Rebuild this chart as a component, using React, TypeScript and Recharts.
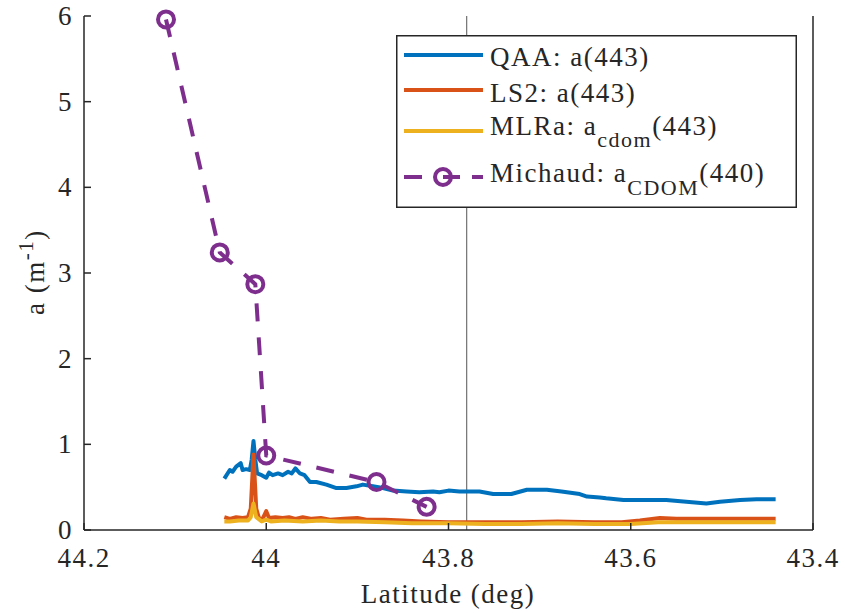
import React from 'react';
import { LineChart, Line, XAxis, YAxis, ReferenceLine, Legend } from 'recharts';

// MATLAB-style absorption vs latitude plot, reversed x axis

const AX = '#262626';
const FONT = '"Liberation Serif", "Times New Roman", serif';
const FS = 27;

const BLUE = '#0072BD';
const ORANGE = '#D95319';
const YELLOW = '#EDB120';
const PURPLE = '#7E2F8E';

const latTicks = [44.2, 44, 43.8, 43.6, 43.4];
const aTicks = [0, 1, 2, 3, 4, 5, 6];

const qaaLat = [
  44.046, 44.04, 44.037, 44.033, 44.028, 44.026, 44.022, 44.018, 44.016, 44.014,
  44.012, 44.01, 44.005, 44.0, 43.997, 43.993, 43.987, 43.982, 43.976, 43.972,
  43.968, 43.963, 43.958, 43.952, 43.945, 43.934, 43.923, 43.912, 43.901, 43.894,
  43.883, 43.872, 43.861, 43.846, 43.832, 43.817, 43.81, 43.8, 43.788, 43.766,
  43.751, 43.731, 43.714, 43.692, 43.676, 43.656, 43.648, 43.634, 43.627, 43.608,
  43.583, 43.561, 43.539, 43.517, 43.502, 43.48, 43.462, 43.441,
];
const qaaVal = [
  0.6, 0.7, 0.68, 0.74, 0.78, 0.7, 0.71, 0.7, 0.82, 1.04,
  0.82, 0.66, 0.64, 0.61, 0.67, 0.64, 0.66, 0.64, 0.68, 0.66,
  0.72, 0.66, 0.64, 0.56, 0.56, 0.53, 0.49, 0.49, 0.51, 0.53,
  0.51, 0.49, 0.46, 0.45, 0.44, 0.45, 0.44, 0.46, 0.45, 0.45,
  0.42, 0.42, 0.47, 0.47, 0.45, 0.42, 0.39, 0.38, 0.37, 0.35,
  0.35, 0.35, 0.33, 0.31, 0.33, 0.35, 0.36, 0.36,
];

const ls2Lat = [
  44.046, 44.04, 44.033, 44.026, 44.02, 44.017, 44.014, 44.011, 44.008, 44.004,
  44.0, 43.997, 43.99, 43.982, 43.975, 43.968, 43.96, 43.95, 43.94, 43.93,
  43.915, 43.9, 43.89, 43.87, 43.85, 43.83, 43.8, 43.76, 43.72, 43.68,
  43.64, 43.61, 43.59, 43.568, 43.55, 43.52, 43.48, 43.441,
];
const ls2Val = [
  0.15, 0.13, 0.15, 0.14, 0.15, 0.25, 0.88, 0.25, 0.14, 0.13,
  0.22, 0.14, 0.15, 0.14, 0.15, 0.13, 0.15, 0.13, 0.14, 0.12,
  0.13, 0.14, 0.12, 0.12, 0.11, 0.1, 0.09, 0.09, 0.09, 0.1,
  0.09, 0.09, 0.11, 0.14, 0.13, 0.13, 0.13, 0.13,
];

const mlrLat = [
  44.046, 44.04, 44.03, 44.02, 44.017, 44.014, 44.011, 44.005, 44.0, 43.995,
  43.98, 43.96, 43.94, 43.92, 43.9, 43.87, 43.84, 43.8, 43.76, 43.72,
  43.68, 43.64, 43.6, 43.57, 43.54, 43.5, 43.441,
];
const mlrVal = [
  0.1, 0.1, 0.11, 0.11, 0.15, 0.31, 0.15, 0.1, 0.12, 0.1,
  0.11, 0.1, 0.11, 0.1, 0.1, 0.09, 0.08, 0.08, 0.07, 0.07,
  0.08, 0.07, 0.07, 0.09, 0.09, 0.09, 0.09,
];

const michaudLat = [44.11, 44.051, 44.012, 44.0, 43.879, 43.824];
const michaudVal = [5.96, 3.24, 2.87, 0.87, 0.56, 0.27];

const dividerLat = 43.78;

const zip = (lat: number[], val: number[]) => lat.map((l, i) => ({ lat: l, a: val[i] }));

const qaa = zip(qaaLat, qaaVal);
const ls2 = zip(ls2Lat, ls2Val);
const mlr = zip(mlrLat, mlrVal);
const michaud = zip(michaudLat, michaudVal);

const textProps = { fontFamily: FONT, fontSize: FS, fill: AX, letterSpacing: 1.5 };

function BottomTick({ x, y, payload }: any) {
  return (
    <g>
      <line x1={x} x2={x} y1={y} y2={y - 7} stroke={AX} strokeWidth={1.5} />
      <text x={x} y={y + 37} textAnchor="middle" {...textProps}>{payload.value}</text>
    </g>
  );
}

function TopTick({ x, y }: any) {
  return <line x1={x} x2={x} y1={y} y2={y + 7} stroke={AX} strokeWidth={1.5} />;
}

function LeftTick({ x, y, payload }: any) {
  return (
    <g>
      <line x1={x} x2={x + 7} y1={y} y2={y} stroke={AX} strokeWidth={1.5} />
      <text x={x - 11} y={y + 9} textAnchor="end" {...textProps}>{payload.value}</text>
    </g>
  );
}

function RightTick({ x, y }: any) {
  return <line x1={x} x2={x - 7} y1={y} y2={y} stroke={AX} strokeWidth={1.5} />;
}

function MichaudDot(p: any) {
  if (p.cx == null || p.cy == null) return null;
  return (
    <circle key={`m-${p.index}`} cx={p.cx} cy={p.cy} r={8} fill="none" stroke={PURPLE} strokeWidth={4} />
  );
}

function LegendBox() {
  const rows = [
    { color: BLUE, lineY: 20 },
    { color: ORANGE, lineY: 55 },
    { color: YELLOW, lineY: 96 },
  ];
  const tx = 94;
  return (
    <svg width={401} height={173} style={{ display: 'block' }}>
      <rect x={0.75} y={0.75} width={399.5} height={171.5} fill="#fff" stroke={AX} strokeWidth={1.5} />
      {rows.map((r, i) => (
        <line key={i} x1={8} x2={87} y1={r.lineY} y2={r.lineY} stroke={r.color} strokeWidth={4} />
      ))}
      <line x1={8} x2={87} y1={142} y2={142} stroke={PURPLE} strokeWidth={4} strokeDasharray="18 16" />
      <circle cx={47} cy={142} r={8} fill="#fff" stroke={PURPLE} strokeWidth={4} />
      <line x1={47} x2={64} y1={142} y2={142} stroke={PURPLE} strokeWidth={4} />
      <text x={tx} y={31} {...textProps}>QAA: a(443)</text>
      <text x={tx} y={67} {...textProps}>LS2: a(443)</text>
      <text x={tx} y={100} {...textProps}>
        MLRa: a<tspan dy={12} fontSize={22}>cdom</tspan><tspan dy={-12}>(443)</tspan>
      </text>
      <text x={tx} y={147} {...textProps}>
        Michaud: a<tspan dy={13} fontSize={22}>CDOM</tspan><tspan dy={-13}>(440)</tspan>
      </text>
    </svg>
  );
}

export default function App() {
  return (
    <div style={{ position: 'absolute', left: 0, top: 0, width: 845, height: 613, background: '#fff' }}>
      <LineChart width={845} height={613} margin={{ top: 16, right: 0, bottom: 0, left: 0 }}>
        <XAxis
          type="number"
          dataKey="lat"
          domain={[43.4, 44.2]}
          ticks={latTicks}
          reversed
          allowDataOverflow
          height={83}
          stroke={AX}
          axisLine={{ stroke: AX, strokeWidth: 1.5 }}
          tickLine={false}
          tickSize={0}
          tickMargin={0}
          tick={<BottomTick />}
          interval={0}
          label={{
            content: () => (
              <text x={448} y={603} textAnchor="middle" {...textProps}>Latitude (deg)</text>
            ),
          }}
        />
        <XAxis
          xAxisId="top"
          orientation="top"
          type="number"
          dataKey="lat"
          domain={[43.4, 44.2]}
          ticks={latTicks}
          reversed
          allowDataOverflow
          height={0}
          axisLine={{ stroke: AX, strokeWidth: 1.5 }}
          tickLine={false}
          tickSize={0}
          tickMargin={0}
          tick={<TopTick />}
          interval={0}
        />
        <YAxis
          type="number"
          domain={[0, 6]}
          ticks={aTicks}
          width={84}
          axisLine={{ stroke: AX, strokeWidth: 1.5 }}
          tickLine={false}
          tickSize={0}
          tickMargin={0}
          tick={<LeftTick />}
          interval={0}
          label={{
            content: () => (
              <text x={44} y={272} textAnchor="middle" transform="rotate(-90 44 272)" {...textProps}>
                a (m<tspan dy={-11} fontSize={21}>-1</tspan><tspan dy={11}>)</tspan>
              </text>
            ),
          }}
        />
        <YAxis
          yAxisId="right"
          orientation="right"
          type="number"
          domain={[0, 6]}
          ticks={aTicks}
          width={32}
          axisLine={{ stroke: AX, strokeWidth: 1.5 }}
          tickLine={false}
          tickSize={0}
          tickMargin={0}
          tick={<RightTick />}
          interval={0}
        />
        <ReferenceLine x={dividerLat} stroke="#555" strokeWidth={1} />
        <Line data={qaa} dataKey="a" type="linear" stroke={BLUE} strokeWidth={4} strokeLinejoin="round" dot={false} isAnimationActive={false} />
        <Line data={ls2} dataKey="a" type="linear" stroke={ORANGE} strokeWidth={4} strokeLinejoin="round" dot={false} isAnimationActive={false} />
        <Line data={mlr} dataKey="a" type="linear" stroke={YELLOW} strokeWidth={4} strokeLinejoin="round" dot={false} isAnimationActive={false} />
        <Line
          data={michaud}
          dataKey="a"
          type="linear"
          stroke={PURPLE}
          strokeWidth={4}
          strokeDasharray="18 16"
          dot={MichaudDot}
          isAnimationActive={false}
        />
        <Legend
          layout="horizontal"
          verticalAlign="middle"
          align="center"
          content={() => <LegendBox />}
          wrapperStyle={{ position: 'absolute', left: 396, top: 35, width: 401, height: 173 }}
        />
      </LineChart>
    </div>
  );
}
